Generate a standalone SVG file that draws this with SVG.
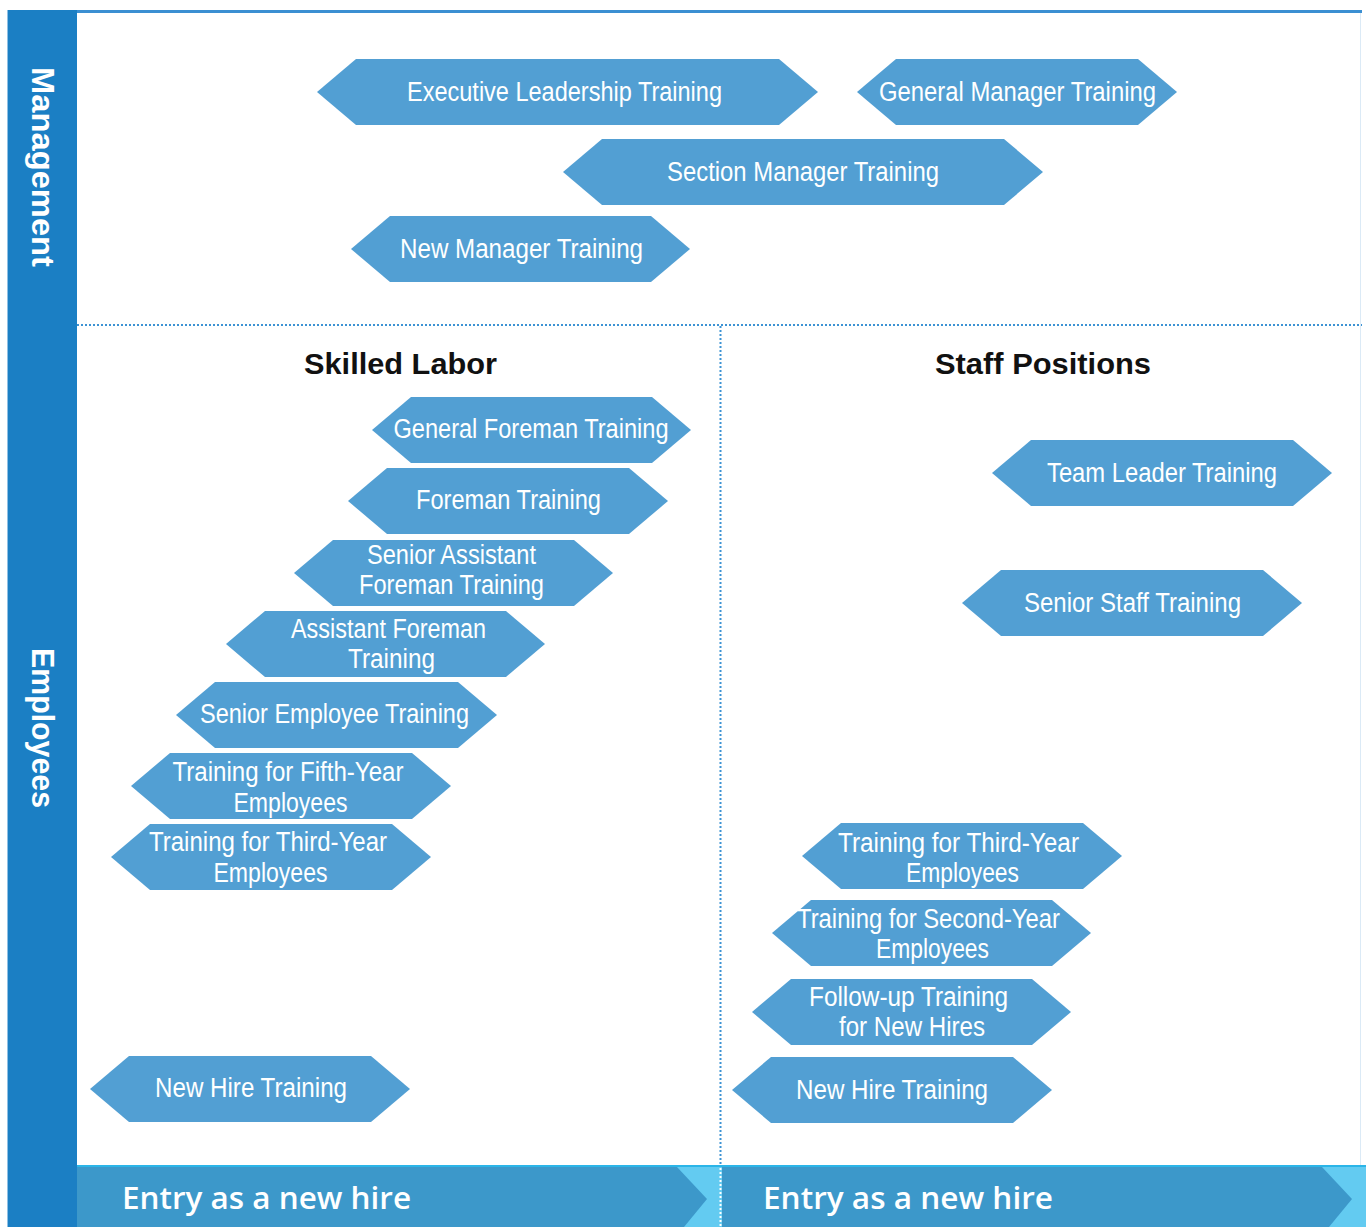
<svg xmlns="http://www.w3.org/2000/svg" width="1366" height="1227" viewBox="0 0 1366 1227">
<style>
.hex{fill:#529fd3}
.t{font-family:"Liberation Sans Narrow","Liberation Sans",Arial,sans-serif;font-size:27px;fill:#fff;text-anchor:middle}
.side{font-family:"Liberation Sans",Arial,sans-serif;font-size:32px;font-weight:bold;fill:#fff;text-anchor:middle}
.head{font-family:"Liberation Sans",Arial,sans-serif;font-size:30px;font-weight:bold;fill:#111;text-anchor:middle}
.entry{font-family:"Open Sans","Liberation Sans",Arial,sans-serif;font-size:31px;font-weight:600;fill:#fff}
.dotb{stroke:#3d93d4;stroke-width:2;stroke-dasharray:2 2;fill:none}
.dotw{stroke:#fff;stroke-width:2;stroke-dasharray:2 2;fill:none}
</style>
<rect x="0" y="0" width="1366" height="1227" fill="#fff"/>
<g id="frame">
<rect x="7" y="10" width="1355" height="3" fill="#3b8fd2"/>
<line x1="1360.5" y1="13" x2="1360.5" y2="1166" stroke="#dbeaf6" stroke-width="1"/>
<rect x="7" y="10" width="70" height="1217" fill="#1b7fc4"/>
<line x1="7.5" y1="10" x2="7.5" y2="1227" stroke="#8fc0e4" stroke-width="1"/>
<text class="side" transform="translate(32,167) rotate(90)" textLength="200" lengthAdjust="spacingAndGlyphs">Management</text>
<text class="side" transform="translate(32,728) rotate(90)" textLength="160" lengthAdjust="spacingAndGlyphs">Employees</text>
<line class="dotb" x1="77" y1="325" x2="1362" y2="325"/>
<line class="dotb" x1="720.5" y1="326" x2="720.5" y2="1166"/>
</g>
<g id="entry-bar">
<rect x="677" y="1167" width="45" height="60" fill="#63cbf1"/>
<rect x="1322" y="1167" width="44" height="60" fill="#63cbf1"/>
<polygon points="77,1167 677,1167 707,1199 684,1227 77,1227" fill="#3c98ca"/>
<polygon points="722,1167 1322,1167 1352,1199 1329,1227 722,1227" fill="#3c98ca"/>
<rect x="77" y="1165" width="1289" height="2" fill="#2bb5e8"/>
<line class="dotw" x1="720.5" y1="1168" x2="720.5" y2="1227"/>
<text class="entry" x="122" y="1209" textLength="289" lengthAdjust="spacingAndGlyphs">Entry as a new hire</text>
<text class="entry" x="763" y="1209" textLength="290" lengthAdjust="spacingAndGlyphs">Entry as a new hire</text>
</g>
<g id="headings">
<text class="head" x="400.5" y="374" textLength="193" lengthAdjust="spacingAndGlyphs">Skilled Labor</text>
<text class="head" x="1043" y="374" textLength="216" lengthAdjust="spacingAndGlyphs">Staff Positions</text>
</g>
<g id="executive-leadership">
<polygon class="hex" points="317,92 356,59 779,59 818,92 779,125 356,125"/>
<text class="t" x="564.5" y="101" textLength="315" lengthAdjust="spacingAndGlyphs">Executive Leadership Training</text>
</g>
<g id="general-manager">
<polygon class="hex" points="857,92 896,59 1138,59 1177,92 1138,125 896,125"/>
<text class="t" x="1017.5" y="101" textLength="277" lengthAdjust="spacingAndGlyphs">General Manager Training</text>
</g>
<g id="section-manager">
<polygon class="hex" points="563,172 602,139 1004,139 1043,172 1004,205 602,205"/>
<text class="t" x="803" y="181" textLength="272" lengthAdjust="spacingAndGlyphs">Section Manager Training</text>
</g>
<g id="new-manager">
<polygon class="hex" points="351,249 390,216 651,216 690,249 651,282 390,282"/>
<text class="t" x="521.5" y="258" textLength="243" lengthAdjust="spacingAndGlyphs">New Manager Training</text>
</g>
<g id="general-foreman">
<polygon class="hex" points="372,430 411,397 652,397 691,430 652,463 411,463"/>
<text class="t" x="531" y="438" textLength="275" lengthAdjust="spacingAndGlyphs">General Foreman Training</text>
</g>
<g id="foreman">
<polygon class="hex" points="348,501 387,468 629,468 668,501 629,534 387,534"/>
<text class="t" x="508.5" y="509" textLength="185" lengthAdjust="spacingAndGlyphs">Foreman Training</text>
</g>
<g id="senior-assistant-foreman">
<polygon class="hex" points="294,573 333,540 574,540 613,573 574,606 333,606"/>
<text class="t" x="451.5" y="564" textLength="169" lengthAdjust="spacingAndGlyphs">Senior Assistant</text>
<text class="t" x="451.5" y="594" textLength="185" lengthAdjust="spacingAndGlyphs">Foreman Training</text>
</g>
<g id="assistant-foreman">
<polygon class="hex" points="226,644 265,611 506,611 545,644 506,677 265,677"/>
<text class="t" x="388.5" y="638" textLength="195" lengthAdjust="spacingAndGlyphs">Assistant Foreman</text>
<text class="t" x="391.5" y="668" textLength="87" lengthAdjust="spacingAndGlyphs">Training</text>
</g>
<g id="senior-employee">
<polygon class="hex" points="176,715 215,682 458,682 497,715 458,748 215,748"/>
<text class="t" x="334.5" y="723" textLength="269" lengthAdjust="spacingAndGlyphs">Senior Employee Training</text>
</g>
<g id="fifth-year">
<polygon class="hex" points="131,786 170,753 412,753 451,786 412,819 170,819"/>
<text class="t" x="288" y="781" textLength="231" lengthAdjust="spacingAndGlyphs">Training for Fifth-Year</text>
<text class="t" x="290.5" y="812" textLength="114" lengthAdjust="spacingAndGlyphs">Employees</text>
</g>
<g id="third-year-skilled">
<polygon class="hex" points="111,857 150,824 392,824 431,857 392,890 150,890"/>
<text class="t" x="268" y="851" textLength="238" lengthAdjust="spacingAndGlyphs">Training for Third-Year</text>
<text class="t" x="270.5" y="882" textLength="114" lengthAdjust="spacingAndGlyphs">Employees</text>
</g>
<g id="new-hire-skilled">
<polygon class="hex" points="90,1089 129,1056 371,1056 410,1089 371,1122 129,1122"/>
<text class="t" x="251" y="1097" textLength="192" lengthAdjust="spacingAndGlyphs">New Hire Training</text>
</g>
<g id="team-leader">
<polygon class="hex" points="992,473 1031,440 1293,440 1332,473 1293,506 1031,506"/>
<text class="t" x="1162" y="482" textLength="230" lengthAdjust="spacingAndGlyphs">Team Leader Training</text>
</g>
<g id="senior-staff">
<polygon class="hex" points="962,603 1001,570 1263,570 1302,603 1263,636 1001,636"/>
<text class="t" x="1132.5" y="612" textLength="217" lengthAdjust="spacingAndGlyphs">Senior Staff Training</text>
</g>
<g id="third-year-staff">
<polygon class="hex" points="802,856 841,823 1083,823 1122,856 1083,889 841,889"/>
<text class="t" x="958.5" y="852" textLength="241" lengthAdjust="spacingAndGlyphs">Training for Third-Year</text>
<text class="t" x="962.5" y="882" textLength="113" lengthAdjust="spacingAndGlyphs">Employees</text>
</g>
<g id="second-year-staff">
<polygon class="hex" points="772,933 811,900 1052,900 1091,933 1052,966 811,966"/>
<text class="t" x="928.5" y="928" textLength="263" lengthAdjust="spacingAndGlyphs">Training for Second-Year</text>
<text class="t" x="932.5" y="958" textLength="113" lengthAdjust="spacingAndGlyphs">Employees</text>
</g>
<g id="follow-up-staff">
<polygon class="hex" points="752,1012 791,979 1032,979 1071,1012 1032,1045 791,1045"/>
<text class="t" x="908.5" y="1006" textLength="199" lengthAdjust="spacingAndGlyphs">Follow-up Training</text>
<text class="t" x="912" y="1036" textLength="146" lengthAdjust="spacingAndGlyphs">for New Hires</text>
</g>
<g id="new-hire-staff">
<polygon class="hex" points="732,1090 771,1057 1013,1057 1052,1090 1013,1123 771,1123"/>
<text class="t" x="892" y="1099" textLength="192" lengthAdjust="spacingAndGlyphs">New Hire Training</text>
</g>
</svg>
